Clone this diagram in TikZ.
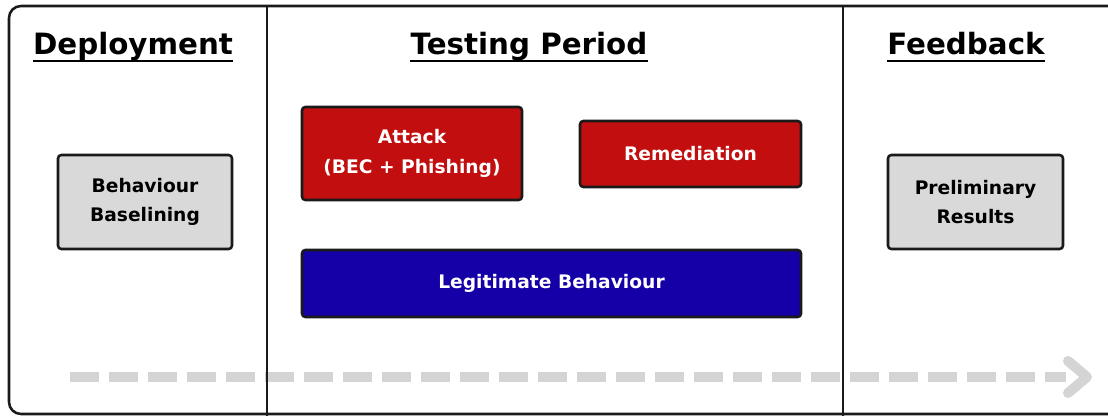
\documentclass[tikz,border=0pt]{standalone}
\usepackage{fontspec}
\setmainfont{DejaVu Sans}
\definecolor{boxgray}{HTML}{D9D9D9}
\definecolor{boxred}{HTML}{C20E0E}
\definecolor{boxblue}{HTML}{1400A6}
\definecolor{dashgray}{HTML}{D4D4D4}
\definecolor{framec}{HTML}{1A1A1A}
\begin{document}
\begin{tikzpicture}[x=0.75pt,y=-0.75pt,
  phase/.style={draw=framec,line width=1.9pt,rounded corners=2.5pt,align=center,
    font=\fontsize{14}{22}\selectfont\bfseries,inner sep=0pt},
  graybox/.style={phase,fill=boxgray,text=black},
  redbox/.style={phase,fill=boxred,text=white},
  bluebox/.style={phase,fill=boxblue,text=white},
  title/.style={font=\fontsize{22}{26}\selectfont\bfseries,inner sep=0pt,anchor=base},
  uline/.style={line width=1.8pt,black},
  divider/.style={framec,line width=2.1pt}]
\useasboundingbox (0,0) rectangle (1108,416);
\begin{scope}
\clip (0,0) rectangle (1108,416);
\draw[framec,line width=1.9pt,rounded corners=9pt] (9,6) rectangle (1130,414);
\end{scope}
\coordinate (d1t) at (267,6);
\coordinate (d1b) at (267,416);
\coordinate (d2t) at (843,6);
\coordinate (d2b) at (843,416);
% dashed timeline
\coordinate (ts) at (70,377);
\coordinate (te) at (1066,377);
\coordinate (ha) at (1068,361);
\coordinate (hb) at (1087,377);
\coordinate (hc) at (1068,393);
\draw[dashgray,line width=7.5pt,dash pattern=on 21.75pt off 7.5pt] (ts) -- (te);
\draw[dashgray,line width=7.5pt,line cap=round,line join=round] (ha) -- (hb) -- (hc);
\draw[divider] (d1t) -- (d1b);
\draw[divider] (d2t) -- (d2b);
% titles
\node[title] (tdep) at (133,55) {Deployment};
\node[title] (ttest) at (529,55) {Testing Period};
\node[title] (tfb) at (966,55) {Feedback};
\foreach \t in {tdep,ttest,tfb}{
  \draw[uline] ([yshift=-4.6pt]\t.base west) -- ([yshift=-4.6pt]\t.base east);
}
% boxes
\node[graybox,minimum width=130.5pt,minimum height=70.5pt] (base) at (145,202) {Behaviour\\Baselining};
\node[graybox,minimum width=131.25pt,minimum height=70.5pt] (prelim) at (975.5,202) {Preliminary\\Results};
\node[redbox,minimum width=165pt,minimum height=69.75pt] (attack) at (412,153.5) {Attack\\(BEC + Phishing)};
\node[redbox,minimum width=165.75pt,minimum height=49.5pt] (remed) at (690.5,154) {Remediation};
\node[bluebox,minimum width=374.25pt,minimum height=50.25pt] (legit) at (551.5,283.5) {Legitimate Behaviour};
\end{tikzpicture}
\end{document}
